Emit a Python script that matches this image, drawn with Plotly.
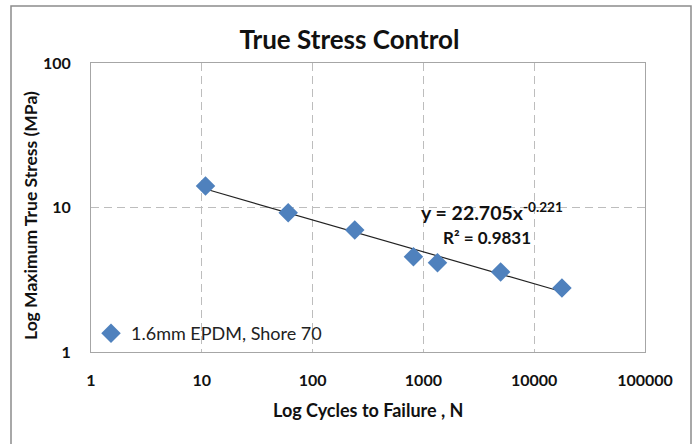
import numpy as np
import plotly.graph_objects as go

cycles = [10.8, 60.2, 240, 813, 1340, 4980, 17800]
stress = [14.1, 9.2, 6.98, 4.56, 4.15, 3.58, 2.77]
series_name = "1.6mm EPDM, Shore 70"
fit_a = 22.705
fit_b = -0.221
r2 = 0.9831
x_ticks = [1, 10, 100, 1000, 10000, 100000]
y_ticks = [1, 10, 100]

fx = np.geomspace(min(cycles), max(cycles), 50)
fy = fit_a * fx ** fit_b

FONT = "Lato"
fig = go.Figure()
fig.add_trace(go.Scatter(x=fx, y=fy, mode="lines", line=dict(color="#222222", width=1.2),
                         showlegend=False, hoverinfo="skip"))
fig.add_trace(go.Scatter(x=cycles, y=stress, mode="markers", name=series_name,
                         marker=dict(symbol="diamond", size=15, color="#4F81BD",
                                     line=dict(width=0))))

W, H = 699, 444
L, R, T, B = 91, 645, 63, 352
pw, ph = R - L, B - T

def px(x):
    return (x - L) / pw

def py(y):
    return (B - y) / ph

fig.add_shape(type="rect", xref="paper", yref="paper",
              x0=px(11), x1=px(691), y0=py(446), y1=py(6),
              line=dict(color="#8c8c8c", width=1.5), fillcolor="rgba(0,0,0,0)", layer="below")

fig.add_annotation(xref="paper", yref="paper", x=px(492), y=py(211), xanchor="center", yanchor="middle",
                   text=f"<b>y = {fit_a}x<sup>{fit_b}</sup></b>", showarrow=False,
                   font=dict(family=FONT, size=19.5, color="#111111"))
fig.add_annotation(xref="paper", yref="paper", x=px(487), y=py(237), xanchor="center", yanchor="middle",
                   text=f"<b>R² = {r2}</b>", showarrow=False,
                   font=dict(family=FONT, size=17, color="#111111"))
fig.add_annotation(xref="paper", yref="paper", x=px(368), y=py(410), xanchor="center", yanchor="middle",
                   text="<b>Log Cycles to Failure , N</b>", showarrow=False,
                   font=dict(family=FONT, size=18, color="#111111"))
fig.add_annotation(xref="paper", yref="paper", x=px(30), y=py(216), xanchor="center", yanchor="middle",
                   text="<b>Log Maximum True Stress (MPa)</b>", showarrow=False, textangle=-90,
                   font=dict(family=FONT, size=17.5, color="#111111"))

axis_common = dict(type="log", showgrid=True, gridcolor="#bdbdbd", griddash="8px,5px", gridwidth=1,
                   showline=True, linecolor="#a6a6a6", linewidth=1, mirror=True,
                   ticks="outside", tickcolor="rgba(0,0,0,0)", zeroline=False, automargin=False,
                   tickfont=dict(family=FONT, size=16, color="#111111", weight="bold"))

fig.update_layout(
    width=W, height=H,
    margin=dict(l=L, r=W - R, t=T, b=H - B, pad=0, autoexpand=False),
    paper_bgcolor="white", plot_bgcolor="white",
    title=dict(text="<b>True Stress Control</b>", x=0.5, xanchor="center", xref="container",
               y=1 - 40 / H, yanchor="middle", yref="container",
               font=dict(family=FONT, size=26, color="#111111")),
    xaxis=dict(axis_common, range=[0, 5], tickvals=x_ticks, ticktext=[str(v) for v in x_ticks],
               ticklen=14),
    yaxis=dict(axis_common, range=[0, 2], tickvals=y_ticks, ticktext=[str(v) for v in y_ticks],
               ticklen=16),
    legend=dict(x=0.0, y=0.0, xanchor="left", yanchor="bottom", bgcolor="rgba(255,255,255,0)",
                font=dict(family=FONT, size=18, color="#222222"), borderwidth=0),
    showlegend=True,
)

fig.write_html("out.html", config={"displayModeBar": False},
               post_script="document.body.style.margin='0';")
